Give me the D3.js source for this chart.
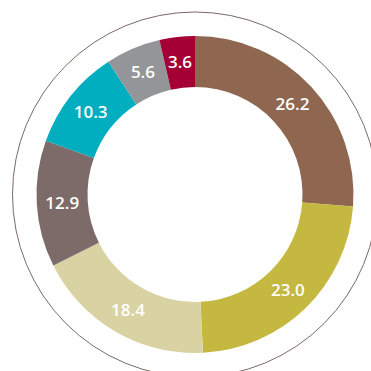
<!DOCTYPE html>
<html>
<head>
<meta charset="utf-8">
<script src="https://cdn.jsdelivr.net/npm/d3@7"></script>
<style>
  html, body { margin: 0; padding: 0; background: #ffffff; }
  svg { display: block; }
</style>
</head>
<body>
<svg id="chart" width="371" height="371"></svg>
<script>
// Shares (per cent), clockwise from 12 o'clock
const labels = ["26.2", "23.0", "18.4", "12.9", "10.3", "5.6", "3.6"];
const values = [26.2, 23.0, 18.4, 12.9, 10.3, 5.6, 3.6];
const colors = ["#8f6750", "#c5b840", "#d9d3a3", "#7c6b68", "#00aebf", "#939598", "#a40035"];

const svg = d3.select("#chart");
const cx = 195, cy = 194.5;
const outerR = 158.5, innerR = 107.5, ringR = 182.5;

const g = svg.append("g").attr("transform", `translate(${cx},${cy})`);

// thin frame circle around the donut
g.append("circle")
  .attr("r", ringR)
  .attr("fill", "none")
  .attr("stroke", "#7a6a66")
  .attr("stroke-width", 1);

const data = values.map((v, i) => ({ label: labels[i], value: v, color: colors[i] }));

const pie = d3.pie()
  .value(d => d.value)
  .sort(null);

const arc = d3.arc()
  .innerRadius(innerR)
  .outerRadius(outerR);

const arcs = pie(data);

g.selectAll("path.slice")
  .data(arcs)
  .join("path")
  .attr("class", "slice")
  .attr("d", arc)
  .attr("fill", d => d.data.color);

g.selectAll("text.value")
  .data(arcs)
  .join("text")
  .attr("class", "value")
  .attr("transform", d => {
    const [x, y] = arc.centroid(d);
    return `translate(${x},${y})`;
  })
  .attr("text-anchor", "middle")
  .attr("dy", "0.36em")
  .attr("fill", "#ffffff")
  .style("font-family", "'Open Sans', Lato, sans-serif")
  .style("font-weight", 600)
  .style("font-size", "17px")
  .text(d => d.data.label);
</script>
</body>
</html>
